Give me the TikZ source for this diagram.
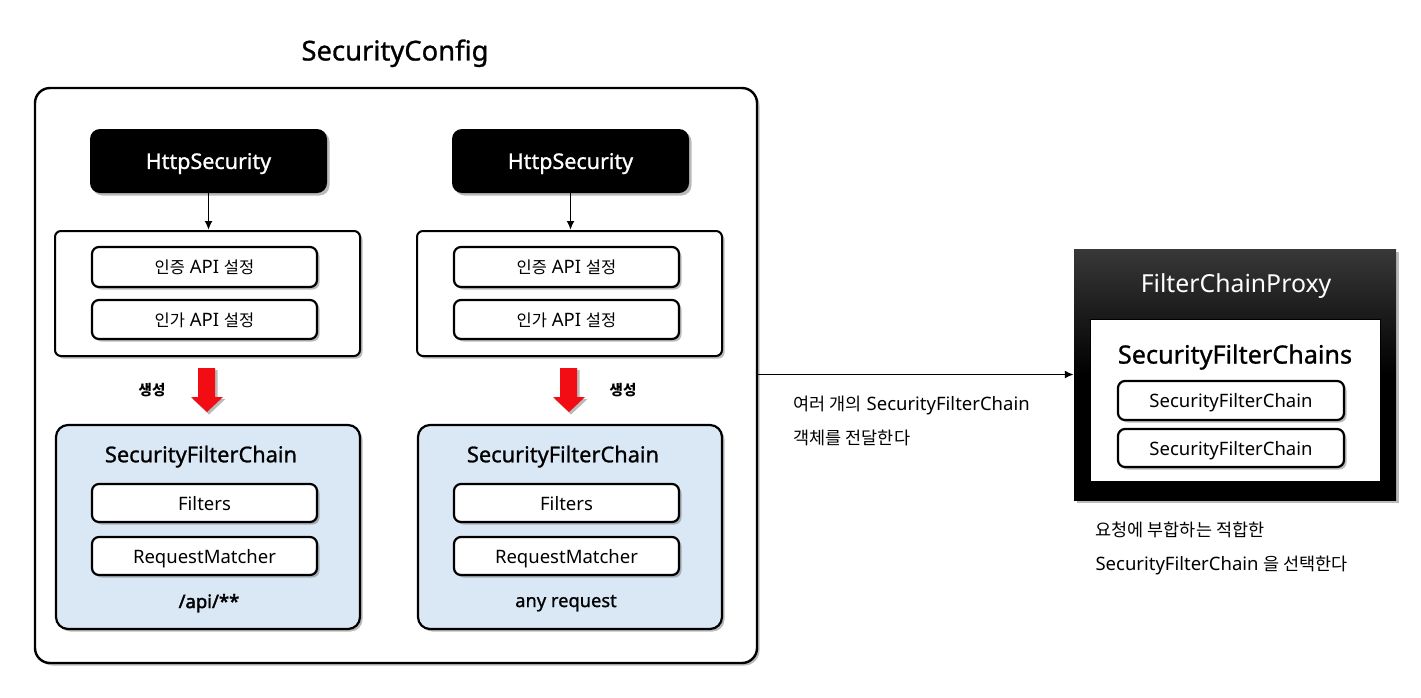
\documentclass[tikz,border=0pt]{standalone}
\usepackage{fontspec}
\setmainfont{Noto Sans}
\newfontfamily\korean{Noto Sans CJK KR}
\newfontfamily\semifont[FakeBold=1]{Noto Sans}
\newfontfamily\boldfont[FakeBold=2.2]{Noto Sans}
\newcommand\ks[1]{{\korean\fontsize{16.5}{19}\selectfont #1}}
\newcommand\kn[1]{{\korean\fontsize{17.5}{20}\selectfont #1}}
\usetikzlibrary{arrows.meta,shadows,positioning}
\definecolor{sfcblue}{HTML}{DAE8F5}
\definecolor{redarrow}{HTML}{F20C14}
\tikzset{
  every node/.append style={text depth=0pt},
  shad/.style={drop shadow={opacity=0.45,shadow xshift=2.5pt,shadow yshift=-2.5pt,fill=black!60}},
  outerbox/.style={draw=black,line width=2.4pt,rounded corners=15pt,fill=white,shad},
  httpbox/.style={fill=black,rounded corners=10pt,text=white,font=\semifont\fontsize{21.5}{25}\selectfont,shad},
  cfgbox/.style={draw=black,line width=2pt,rounded corners=6pt,fill=white,shad},
  itembox/.style={draw=black,line width=2.2pt,rounded corners=7pt,fill=white,font=\fontsize{18.5}{22}\selectfont,shad},
  sfcbox/.style={draw=black,line width=2.2pt,rounded corners=12pt,fill=sfcblue,shad},
  sfctitle/.style={font=\semifont\fontsize{21.8}{25}\selectfont},
  note/.style={font=\fontsize{18.5}{22}\selectfont,anchor=west},
  gen/.style={font=\korean\bfseries\fontsize{14.5}{17}\selectfont},
  conn/.style={line width=1.8pt,-{Latex[length=9pt,width=8pt]}},
}
\begin{document}
\begin{tikzpicture}[x=1pt,y=-1pt]
\useasboundingbox (0,0) rectangle (1421,697);
% title
\node[font=\semifont\fontsize{27.4}{32}\selectfont] (title) at (395,50) {SecurityConfig};
% outer box
\node[outerbox,minimum width=722pt,minimum height=575pt] (outer) at (396,375.5) {};
% left column
\node[httpbox,minimum width=237pt,minimum height=64pt] (hsL) at (208.5,161) {HttpSecurity};
\node[cfgbox,minimum width=305pt,minimum height=125pt] (cfgL) at (207.5,293.5) {};
\node[itembox,minimum width=225pt,minimum height=40pt] (authnL) at (204.5,267) {\ks{인증} API \ks{설정}};
\node[itembox,minimum width=225pt,minimum height=39pt] (authzL) at (204.5,319.5) {\ks{인가} API \ks{설정}};
\draw[conn] (hsL.south) -- (hsL.south |- cfgL.north);
\node[gen] (genL) at (152,389) {생성};
\fill[black!45,opacity=0.6] (200.5,370) -- (217.5,370) -- (217.5,399) -- (225.5,399) -- (209,414.5) -- (192.5,399) -- (200.5,399) -- cycle;
\fill[redarrow] (198,368) -- (215,368) -- (215,397) -- (223,397) -- (207,412) -- (191,397) -- (198,397) -- cycle;
\node[sfcbox,minimum width=304pt,minimum height=204pt] (sfcL) at (208,527) {};
\node[sfctitle] (sfctL) at (201,454) {SecurityFilterChain};
\node[itembox,minimum width=225pt,minimum height=38pt] (filtL) at (204.5,503) {Filters};
\node[itembox,minimum width=225pt,minimum height=38pt] (rmL) at (204.5,556) {RequestMatcher};
\node[font=\boldfont\fontsize{18.5}{22}\selectfont] (pathL) at (209,601) {/api/**};
% right column
\node[httpbox,minimum width=237pt,minimum height=64pt] (hsR) at (570.5,161) {HttpSecurity};
\node[cfgbox,minimum width=305pt,minimum height=125pt] (cfgR) at (569.5,293.5) {};
\node[itembox,minimum width=225pt,minimum height=40pt] (authnR) at (566.5,267) {\ks{인증} API \ks{설정}};
\node[itembox,minimum width=225pt,minimum height=39pt] (authzR) at (566.5,319.5) {\ks{인가} API \ks{설정}};
\draw[conn] (hsR.south) -- (hsR.south |- cfgR.north);
\node[gen] (genR) at (623,389) {생성};
\fill[black!45,opacity=0.6] (562.5,370) -- (579.5,370) -- (579.5,399) -- (587.5,399) -- (571,414.5) -- (554.5,399) -- (562.5,399) -- cycle;
\fill[redarrow] (560,368) -- (577,368) -- (577,397) -- (585,397) -- (569,412) -- (553,397) -- (560,397) -- cycle;
\node[sfcbox,minimum width=304pt,minimum height=204pt] (sfcR) at (570,527) {};
\node[sfctitle] (sfctR) at (563,454) {SecurityFilterChain};
\node[itembox,minimum width=225pt,minimum height=38pt] (filtR) at (566.5,503) {Filters};
\node[itembox,minimum width=225pt,minimum height=38pt] (rmR) at (566.5,556) {RequestMatcher};
\node[font=\semifont\fontsize{18.3}{21}\selectfont] (pathR) at (566,601) {any request};
% FilterChainProxy
\node[minimum width=322pt,minimum height=251pt,top color=black!78,bottom color=black,middle color=black,shad] (fcp) at (1235,374.5) {};
\node[text=white,font=\fontsize{24.8}{29}\selectfont] (fcpt) at (1236,283) {FilterChainProxy};
\node[draw=black,line width=1pt,fill=white,minimum width=290pt,minimum height=162pt] (chains) at (1235,400) {};
\node[font=\semifont\fontsize{25.2}{30}\selectfont] (chainst) at (1235,354) {SecurityFilterChains};
\node[itembox,minimum width=226pt,minimum height=39pt] (c1) at (1231,400.5) {SecurityFilterChain};
\node[itembox,minimum width=226pt,minimum height=38pt] (c2) at (1231,448) {SecurityFilterChain};
% connector
\draw[conn] (outer.east |- fcp.west) -- (fcp.west);
\node[note] (n1) at (790,403) {\kn{여러 개의} SecurityFilterChain};
\node[note] (n2) at (790,437) {\kn{객체를 전달한다}};
\node[note] (n3) at (1092,529) {\kn{요청에 부합하는 적합한}};
\node[note] (n4) at (1092,563) {SecurityFilterChain \kn{을 선택한다}};
\end{tikzpicture}
\end{document}
